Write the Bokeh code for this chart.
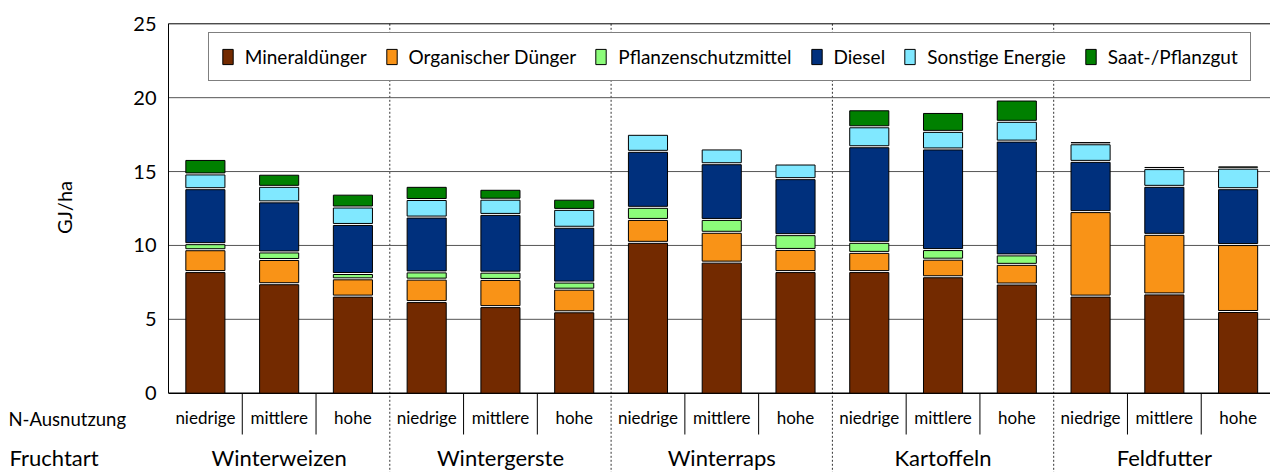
import math
import numpy as np
from bokeh.plotting import figure
from bokeh.layouts import row
from bokeh.models import (Range1d, FixedTicker, Span, Legend, LegendItem, ColumnDataSource)
from bokeh.core.properties import value
from bokeh.embed import file_html
from bokeh.resources import INLINE

# ---------------- data ----------------
crops = ["Winterweizen", "Wintergerste", "Winterraps", "Kartoffeln", "Feldfutter"]
levels = ["niedrige", "mittlere", "hohe"]
series_names = ["Mineraldünger", "Organischer Dünger", "Pflanzenschutzmittel",
                "Diesel", "Sonstige Energie", "Saat-/Pflanzgut"]

mineral  = [8.23, 7.41, 6.57, 6.20, 5.86, 5.51, 10.21, 8.87, 8.23, 8.23, 7.88, 7.39, 6.57, 6.72, 5.53]
organic  = [1.48, 1.64, 1.17, 1.52, 1.84, 1.53, 1.55, 2.02, 1.50, 1.30, 1.19, 1.33, 5.72, 4.03, 4.53]
pflanzen = [0.41, 0.51, 0.36, 0.49, 0.49, 0.48, 0.82, 0.87, 1.00, 0.68, 0.65, 0.64, 0.00, 0.00, 0.00]
diesel   = [3.72, 3.39, 3.32, 3.71, 3.91, 3.71, 3.79, 3.77, 3.79, 6.47, 6.81, 7.70, 3.40, 3.25, 3.78]
sonstige = [1.00, 1.05, 1.18, 1.19, 1.03, 1.21, 1.15, 1.00, 0.99, 1.35, 1.19, 1.34, 1.19, 1.20, 1.39]
saat     = [0.98, 0.82, 0.87, 0.89, 0.67, 0.69, 0.00, 0.00, 0.00, 1.15, 1.28, 1.44, 0.12, 0.10, 0.10]

y_ticks = [0, 5, 10, 15, 20, 25]
y_label = "GJ/ha"
row_labels = ["N-Ausnutzung", "Fruchtart"]

colors = ["#732a00", "#f99317", "#8cfc7a", "#00307d", "#80e8ff", "#008000"]

# ---------------- layout ----------------
FONT = "Lato"
W, H = 1270, 472
LEFT_W = 130          # width of the left label strip
AX_W = 36             # room for the y-axis tick labels
TOP = 21
k = 14.776            # px per unit
slot = 73.9           # px per bar slot
y_zero_px = 392.7
TXT_SHIFT = 8         # text glyphs render this many px lower than their anchor
GAP = 1.0 / k         # 1px white seam between stacked segments
frame_w = W - LEFT_W - AX_W
frame_h = H - TOP
y_end = 25 + (23.3 - TOP) / k
y_start = -(H - y_zero_px) / k
x_end = frame_w / slot
yr = Range1d(y_start, y_end)


def ypx(px):
    """data y for a pixel row (from the top of the page)"""
    return (y_zero_px - px) / k


n_lv = len(levels)
xs = [i + 0.5 for i in range(len(crops) * n_lv)]
lvl_labels = [levels[i % n_lv] for i in range(len(xs))]
group_x = [g * n_lv + n_lv / 2 for g in range(len(crops))]

y_lvl = ypx(425 - TXT_SHIFT)
y_nrow = ypx(426.5 - TXT_SHIFT)
y_crop = ypx(465 - TXT_SHIFT)
y_sep = ypx(434)

# ---------- main chart ----------
p = figure(width=W - LEFT_W, height=H, x_range=Range1d(0, x_end), y_range=yr,
           output_backend="svg", toolbar_location=None, x_axis_location=None,
           min_border_left=AX_W, min_border_right=0, min_border_top=TOP, min_border_bottom=0)
p.outline_line_color = None
p.grid.visible = False

ax = p.yaxis[0]
ax.ticker = FixedTicker(ticks=y_ticks)
ax.bounds = (0, 25)
ax.major_tick_in = 0
ax.major_tick_out = 0
ax.minor_tick_in = 0
ax.minor_tick_out = 0
ax.axis_line_color = "black"
ax.major_label_standoff = 12
ax.major_label_text_font = FONT
ax.major_label_text_font_size = "20px"
ax.major_label_text_color = "black"

for v in y_ticks[1:-1]:
    p.add_layout(Span(location=v, dimension="width", line_color="#555555", line_width=1, level="underlay"))
p.add_layout(Span(location=25, dimension="width", line_color="black", line_width=1, level="underlay"))
p.add_layout(Span(location=0, dimension="width", line_color="black", line_width=1.5, level="underlay"))

gx = [g * n_lv for g in range(1, len(crops))]
p.segment(x0=gx, y0=[25] * len(gx), x1=gx, y1=[y_start] * len(gx),
          line_color="#333333", line_width=1, line_dash="2 2", level="underlay")
lx = [g * n_lv + j for g in range(len(crops)) for j in range(1, n_lv)]
p.segment(x0=lx, y0=[0] * len(lx), x1=lx, y1=[y_sep] * len(lx), line_color="black", line_width=1)

# stacked bars (drawn segment by segment, with a thin white seam between segments)
series = [mineral, organic, pflanzen, diesel, sonstige, saat]
base = np.zeros(len(xs))
rs = []
for vals, col in zip(series, colors):
    v = np.array(vals, dtype=float)
    lo = base + np.where(base > 0, GAP, 0.0)
    hi = np.maximum(base + v - GAP, lo + 0.01)
    hi = np.where(v > 0, hi, np.nan)
    src = ColumnDataSource(dict(x=xs, bottom=lo, top=hi))
    r = p.vbar(x="x", bottom="bottom", top="top", width=0.53, source=src,
               fill_color=col, line_color="black", line_width=1)
    rs.append(r)
    base = base + v

p.text(x=xs, y=[y_lvl] * len(xs), text=lvl_labels, text_align="center",
       text_baseline="alphabetic", text_font=value(FONT), text_font_size="17px", text_color="black")
p.text(x=group_x, y=[y_crop] * len(group_x), text=crops, text_align="center",
       text_baseline="alphabetic", text_font=value(FONT), text_font_size="22px", text_color="black")

LEG_H = 47
legend = Legend(items=[LegendItem(label=n, renderers=[r]) for n, r in zip(series_names, rs)],
                orientation="horizontal", location=(39.7, frame_h - 12.7 - LEG_H),
                border_line_color="black", border_line_width=1,
                background_fill_color="white", background_fill_alpha=1.0,
                label_text_font=FONT, label_text_font_size="19px", label_text_color="black",
                glyph_width=13, glyph_height=19, label_height=19, label_standoff=11,
                spacing=18, padding=12, margin=0)
p.add_layout(legend)

# ---------- left label strip ----------
lf = figure(width=LEFT_W, height=H, x_range=Range1d(0, LEFT_W), y_range=yr,
            output_backend="svg", toolbar_location=None, x_axis_location=None,
            y_axis_location=None, min_border_left=0, min_border_right=0,
            min_border_top=TOP, min_border_bottom=0)
lf.outline_line_color = None
lf.grid.visible = False
lf.text(x=[63], y=[ypx(207)], text=[y_label], angle=math.pi / 2,
        text_align="center", text_baseline="middle", text_font=value(FONT),
        text_font_size="20px", text_color="black")
lf.text(x=[8], y=[y_nrow], text=[row_labels[0]], text_align="left",
        text_baseline="alphabetic", text_font=value(FONT), text_font_size="18.5px", text_color="black")
lf.text(x=[9], y=[y_crop], text=[row_labels[1]], text_align="left",
        text_baseline="alphabetic", text_font=value(FONT), text_font_size="22px", text_color="black")

layout = row(lf, p, spacing=0)
open("out.html", "w").write(file_html(layout, INLINE))
